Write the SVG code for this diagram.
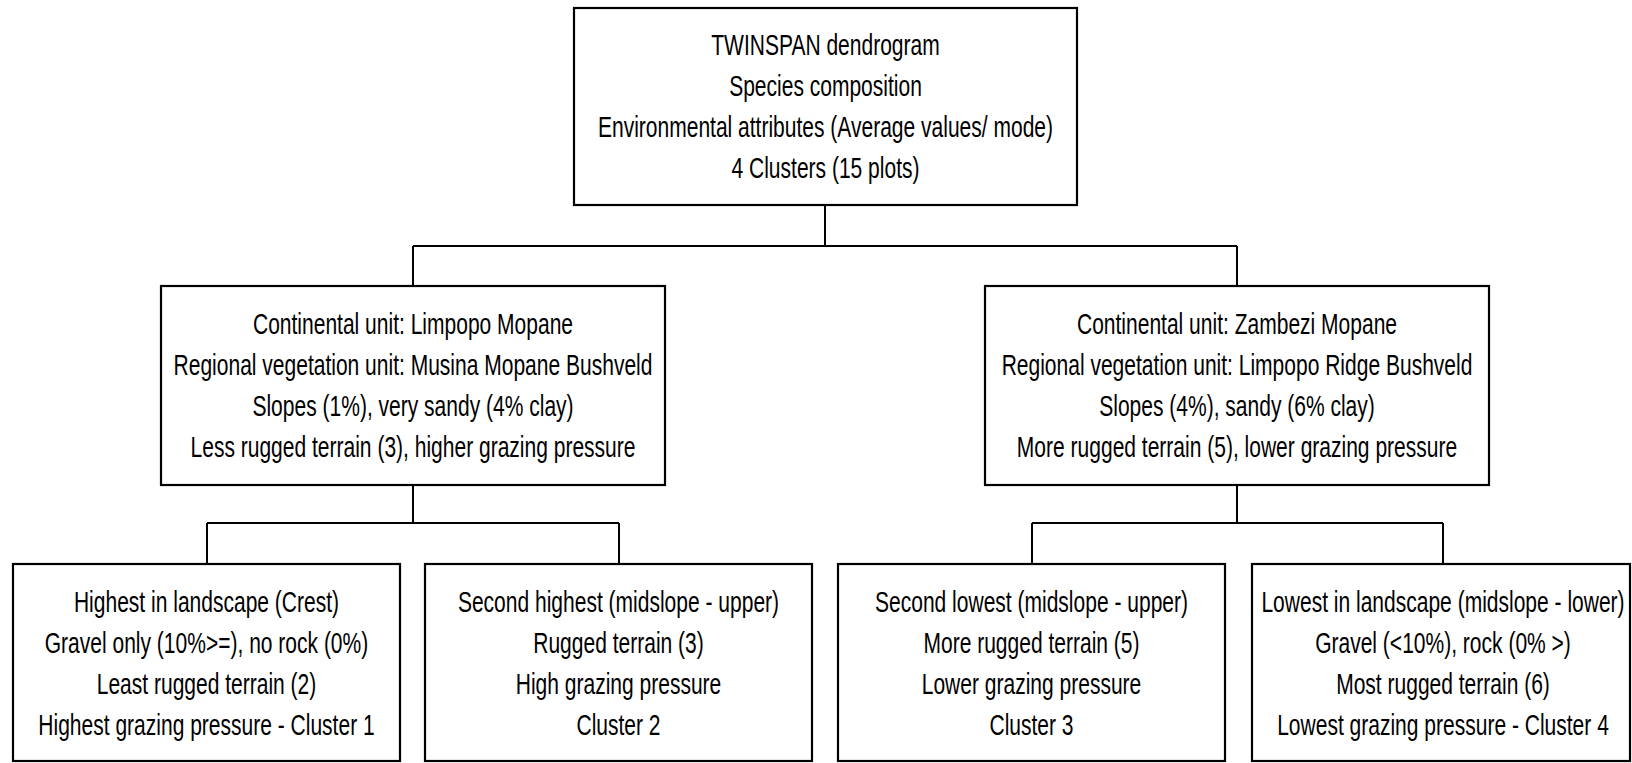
<svg xmlns="http://www.w3.org/2000/svg" width="1632" height="763" viewBox="0 0 1632 763">
<style>
.box{fill:#fff;stroke:#000;stroke-width:2.2}
.con{fill:none;stroke:#000;stroke-width:2}
text{font-family:"Liberation Sans",Arial,sans-serif;font-size:29px;fill:#000;text-anchor:middle}
</style>
<rect width="1632" height="763" fill="#fff"/>
<g id="connectors" class="con">
<path d="M825 205V246M413 246H1237M413 246V286M1237 246V286"/>
<path d="M413 485V523M207 523H619M207 523V564M619 523V564"/>
<path d="M1237 485V523M1032 523H1443M1032 523V564M1443 523V564"/>
</g>
<g id="root">
<rect class="box" x="574" y="8" width="503" height="197"/>
<g transform="translate(825.5 0) scale(0.725 1)">
<text x="0" y="55">TWINSPAN dendrogram</text>
<text x="0" y="96">Species composition</text>
<text x="0" y="137">Environmental attributes (Average values/ mode)</text>
<text x="0" y="178">4 Clusters (15 plots)</text>
</g>
</g>
<g id="limpopo">
<rect class="box" x="161" y="286" width="504" height="199"/>
<g transform="translate(413 0) scale(0.725 1)">
<text x="0" y="334">Continental unit: Limpopo Mopane</text>
<text x="0" y="375">Regional vegetation unit: Musina Mopane Bushveld</text>
<text x="0" y="416">Slopes (1%), very sandy (4% clay)</text>
<text x="0" y="457">Less rugged terrain (3), higher grazing pressure</text>
</g>
</g>
<g id="zambezi">
<rect class="box" x="985" y="286" width="504" height="199"/>
<g transform="translate(1237 0) scale(0.725 1)">
<text x="0" y="334">Continental unit: Zambezi Mopane</text>
<text x="0" y="375">Regional vegetation unit: Limpopo Ridge Bushveld</text>
<text x="0" y="416">Slopes (4%), sandy (6% clay)</text>
<text x="0" y="457">More rugged terrain (5), lower grazing pressure</text>
</g>
</g>
<g id="cluster1">
<rect class="box" x="13" y="564" width="387" height="197"/>
<g transform="translate(206.5 0) scale(0.725 1)">
<text x="0" y="612">Highest in landscape (Crest)</text>
<text x="0" y="653">Gravel only (10%&gt;=), no rock (0%)</text>
<text x="0" y="694">Least rugged terrain (2)</text>
<text x="0" y="735">Highest grazing pressure - Cluster 1</text>
</g>
</g>
<g id="cluster2">
<rect class="box" x="425" y="564" width="387" height="197"/>
<g transform="translate(618.5 0) scale(0.725 1)">
<text x="0" y="612">Second highest (midslope - upper)</text>
<text x="0" y="653">Rugged terrain (3)</text>
<text x="0" y="694">High grazing pressure</text>
<text x="0" y="735">Cluster 2</text>
</g>
</g>
<g id="cluster3">
<rect class="box" x="838" y="564" width="387" height="197"/>
<g transform="translate(1031.5 0) scale(0.725 1)">
<text x="0" y="612">Second lowest (midslope - upper)</text>
<text x="0" y="653">More rugged terrain (5)</text>
<text x="0" y="694">Lower grazing pressure</text>
<text x="0" y="735">Cluster 3</text>
</g>
</g>
<g id="cluster4">
<rect class="box" x="1252" y="564" width="378" height="197"/>
<g transform="translate(1443 0) scale(0.725 1)">
<text x="0" y="612">Lowest in landscape (midslope - lower)</text>
<text x="0" y="653">Gravel (&lt;10%), rock (0% &gt;)</text>
<text x="0" y="694">Most rugged terrain (6)</text>
<text x="0" y="735">Lowest grazing pressure - Cluster 4</text>
</g>
</g>
</svg>
